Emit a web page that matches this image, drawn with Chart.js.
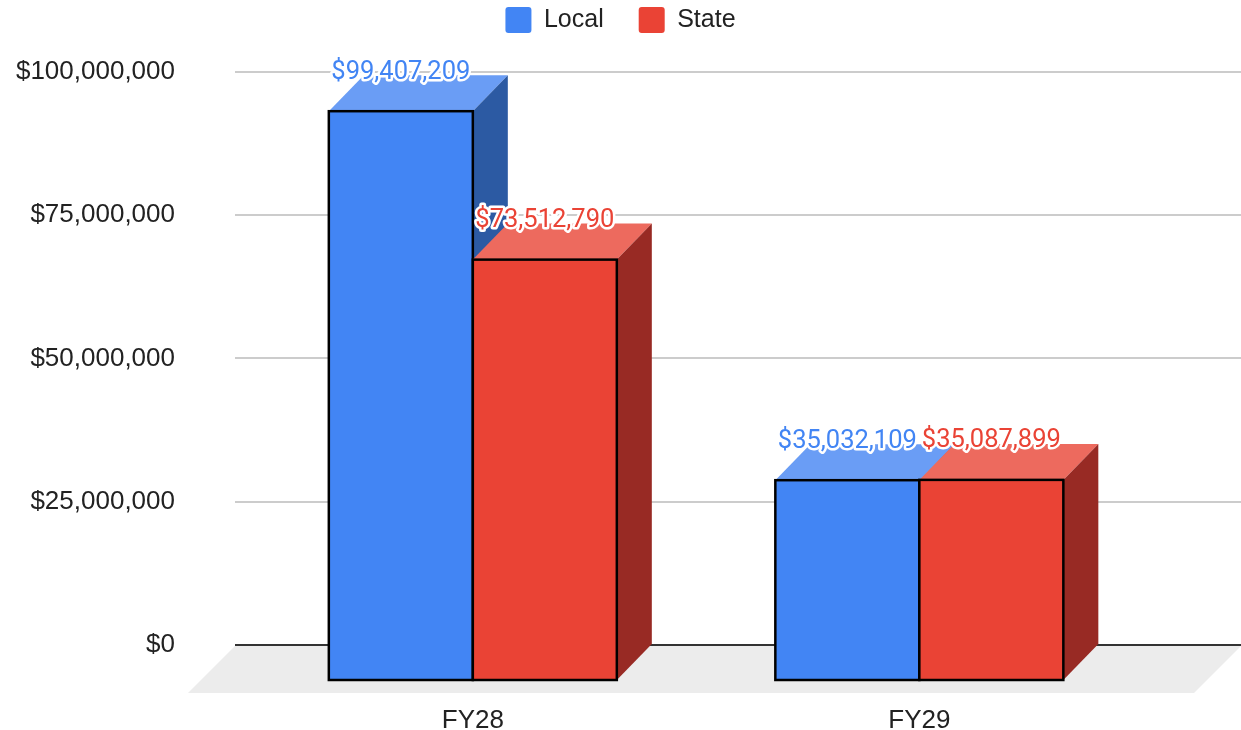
<!DOCTYPE html>
<html>
<head>
<meta charset="utf-8">
<title>Local vs State funding</title>
<script src="https://cdn.jsdelivr.net/npm/chart.js"></script>
<style>
  html, body { margin: 0; padding: 0; background: #fff; }
  canvas { display: block; }
</style>
</head>
<body>
<canvas id="chart" width="1241" height="730"></canvas>
<script>
const categories = ['FY28', 'FY29'];
const localValues = [99407209, 35032109];
const stateValues = [73512790, 35087899];
const yTicks = [0, 25000000, 50000000, 75000000, 100000000];

// colours for each box: front face, lit top, shaded side
const localColors = { front: '#4285f4', top: '#6a9df5', side: '#2c5aa3' };
const stateColors = { front: '#ea4335', top: '#ed6a5e', side: '#982a24' };
const faceColors = [localColors, stateColors];

// offset of the front face from the back wall (the fake 3D depth)
const DEPTH_X = 35;
const DEPTH_Y = 36;
const FLOOR_DEPTH = 47;

const AXIS_FONT = "Arial, 'Liberation Sans', sans-serif";
const money = v => '$' + Number(v).toLocaleString('en-US');

Chart.defaults.font.family = AXIS_FONT;

const boxes3d = {
  id: 'boxes3d',
  beforeDatasetsDraw(chart) {
    // grey floor in front of the back wall
    const { ctx, chartArea } = chart;
    const y0 = chart.scales.y.getPixelForValue(0) + 1;
    ctx.save();
    ctx.fillStyle = '#ececec';
    ctx.beginPath();
    ctx.moveTo(chartArea.left, y0);
    ctx.lineTo(chartArea.right, y0);
    ctx.lineTo(chartArea.right - FLOOR_DEPTH, y0 + FLOOR_DEPTH);
    ctx.lineTo(chartArea.left - FLOOR_DEPTH, y0 + FLOOR_DEPTH);
    ctx.closePath();
    ctx.fill();
    ctx.restore();
  },
  // the plain bars are replaced by the boxes below
  beforeDatasetDraw() {
    return false;
  },
  afterDatasetsDraw(chart) {
    const ctx = chart.ctx;
    const metas = chart.getSortedVisibleDatasetMetas();
    ctx.save();
    for (let i = 0; i < categories.length; i++) {
      metas.forEach(meta => {
        const bar = meta.data[i];
        const c = faceColors[meta.index];
        const w = bar.width;
        const L = bar.x - w / 2, R = bar.x + w / 2;
        const T = bar.y, B = bar.base;

        // top face
        ctx.fillStyle = c.top;
        ctx.beginPath();
        ctx.moveTo(L - DEPTH_X, T + DEPTH_Y);
        ctx.lineTo(L, T);
        ctx.lineTo(R, T);
        ctx.lineTo(R - DEPTH_X, T + DEPTH_Y);
        ctx.closePath();
        ctx.fill();

        // right side face
        ctx.fillStyle = c.side;
        ctx.beginPath();
        ctx.moveTo(R - DEPTH_X, T + DEPTH_Y);
        ctx.lineTo(R, T);
        ctx.lineTo(R, B);
        ctx.lineTo(R - DEPTH_X, B + DEPTH_Y);
        ctx.closePath();
        ctx.fill();

        // front face with black outline
        ctx.fillStyle = c.front;
        ctx.fillRect(L - DEPTH_X, T + DEPTH_Y, w, B - T);
        ctx.strokeStyle = '#000';
        ctx.lineWidth = 2.5;
        ctx.strokeRect(L - DEPTH_X, T + DEPTH_Y, w, B - T);
      });
    }

    // value labels with a white halo
    ctx.font = '25.5px Roboto';
    ctx.textAlign = 'center';
    ctx.textBaseline = 'middle';
    ctx.lineJoin = 'round';
    for (let i = 0; i < categories.length; i++) {
      metas.forEach(meta => {
        const bar = meta.data[i];
        const text = money(chart.data.datasets[meta.index].data[i].y);
        const x = bar.x - DEPTH_X;
        const y = bar.y - 3;
        ctx.strokeStyle = '#fff';
        ctx.lineWidth = 5;
        ctx.strokeText(text, x, y);
        ctx.fillStyle = faceColors[meta.index].front;
        ctx.fillText(text, x, y);
      });
    }
    ctx.restore();
  }
};

new Chart(document.getElementById('chart'), {
  type: 'bar',
  data: {
    datasets: [
      {
        label: 'Local',
        data: localValues.map((v, i) => ({ x: i, y: v })),
        backgroundColor: localColors.front,
        borderWidth: 0,
        barThickness: 144
      },
      {
        label: 'State',
        data: stateValues.map((v, i) => ({ x: i, y: v })),
        backgroundColor: stateColors.front,
        borderWidth: 0,
        barThickness: 144
      }
    ]
  },
  options: {
    responsive: false,
    animation: false,
    layout: { padding: { top: -28 } },
    plugins: {
      legend: {
        position: 'top',
        labels: {
          boxWidth: 26,
          boxHeight: 26,
          padding: 35,
          color: '#222',
          font: { size: 25 },
          useBorderRadius: true,
          borderRadius: 3
        }
      },
      // empty title only used as a spacer between legend and plot
      title: { display: true, text: '', weight: 0, padding: 0, font: { size: 24 } },
      tooltip: { enabled: false }
    },
    scales: {
      x: {
        type: 'linear',
        offset: false,
        min: -0.611,
        max: 1.642,
        afterBuildTicks: s => { s.ticks = categories.map((_, i) => ({ value: i })); },
        afterFit: s => { s.height = 85; },
        grid: { display: false },
        border: { display: false },
        ticks: {
          callback: v => categories[v],
          labelOffset: -DEPTH_X,
          padding: 52,
          color: '#222',
          font: { size: 26 },
          maxRotation: 0,
          autoSkip: false
        }
      },
      y: {
        min: 0,
        max: 100000000,
        afterBuildTicks: s => { s.ticks = yTicks.map(v => ({ value: v })); },
        afterFit: s => { s.width = 235; s.paddingTop = 15; s.paddingBottom = 15; },
        border: { display: false },
        grid: {
          color: c => c.tick.value === 0 ? '#333' : '#cccccc',
          lineWidth: 2,
          drawTicks: false
        },
        ticks: {
          callback: v => money(v),
          padding: 60,
          color: '#222',
          font: { size: 26 }
        }
      }
    }
  },
  plugins: [boxes3d]
});
</script>
</body>
</html>
